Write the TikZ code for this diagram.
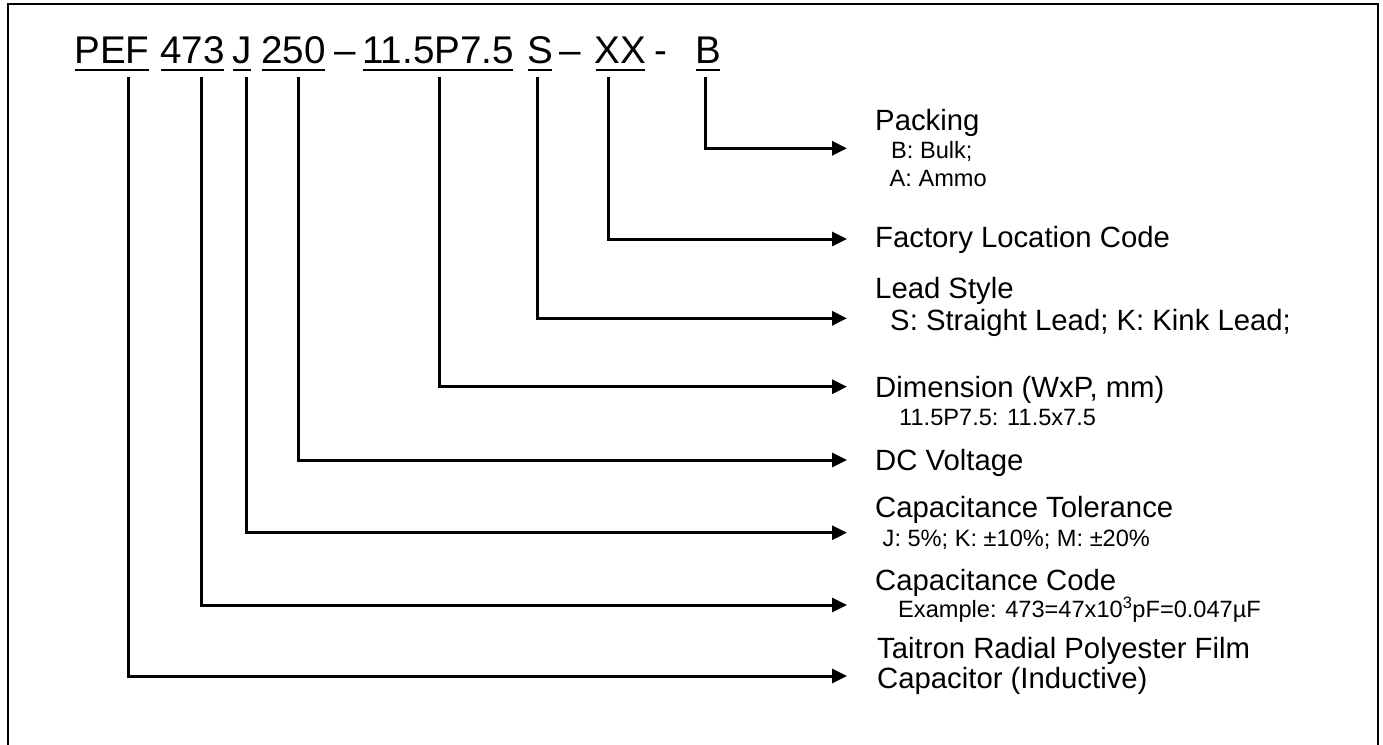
\documentclass[tikz,border=0pt]{standalone}
\usepackage{fontspec}
\setmainfont{Liberation Sans}
\usetikzlibrary{arrows.meta}
\newcommand{\ttlfont}{\fontsize{38.6}{40}\selectfont}
\newcommand{\labfont}{\fontsize{29.3}{31}\selectfont}
\newcommand{\smlfont}{\fontsize{23.6}{25}\selectfont}
\tikzset{
  ttl/.style={anchor=base west, inner sep=0pt, font=\ttlfont},
  lab/.style={anchor=base west, inner sep=0pt, font=\labfont},
  sml/.style={anchor=base west, inner sep=0pt, font=\smlfont},
  conn/.style={line width=3pt, -{Triangle[length=15pt,width=14pt]}},
  uline/.style={line width=2.7pt},
  frame/.style={line width=2pt}
}
\begin{document}
\begin{tikzpicture}[x=1pt,y=-1pt]
\useasboundingbox (0,0) rectangle (1383,744);
\draw[frame] (8,750) -- (8,4) -- (1378,4) -- (1378,750);
% title tokens
\node[ttl] (tPEF) at (74.3,63) {PEF};
\node[ttl] (t473) at (160,63) {473};
\node[ttl] (tJ) at (232,63) {J};
\node[ttl] (t250) at (261,63) {250};
\node[ttl] (td1) at (334,63) {–};
\node[ttl] (tP) at (362,63) {11.5P7.5};
\node[ttl] (tS) at (527,63) {S};
\node[ttl] (td2) at (559,63) {–};
\node[ttl] (tXX) at (594.5,63) {XX};
\node[ttl] (td3) at (654.5,63) {-};
\node[ttl] (tB) at (695,63) {B};
\foreach \t in {tPEF,t473,tJ,t250,tP,tS,tXX,tB}{
  \draw[uline] ([xshift=1pt]\t.west |- 0,70) -- ([xshift=-1pt]\t.east |- 0,70);
}
% labels
\node[lab] (lPack) at (875,130.7) {Packing};
\node[sml] (lPack1) at (891,158.3) {B: Bulk;};
\node[sml] (lPack2) at (889.5,186) {A: Ammo};
\node[lab] (lFac) at (875,247) {Factory Location Code};
\node[lab] (lLead) at (875,298) {Lead Style};
\node[lab] (lLead1) at (890,330) {S: Straight Lead; K: Kink Lead;};
\node[lab] (lDim) at (875,397.3) {Dimension (WxP, mm)};
\node[sml] (lDim1) at (899,425) {11.5P7.5: 11.5x7.5};
\node[lab] (lDC) at (875,470) {DC Voltage};
\node[lab] (lTol) at (875,517.3) {Capacitance Tolerance};
\node[sml] (lTol1) at (882.5,546) {J: 5\%; K: ±10\%; M: ±20\%};
\node[lab] (lCode) at (875,590) {Capacitance Code};
\node[sml] (lCode1) at (898,617.3) {Example: 473=47x10\textsuperscript{3}pF=0.047µF};
\node[lab] (lTai) at (877,658.3) {Taitron Radial Polyester Film};
\node[lab] (lTai1) at (877,688.3) {Capacitor (Inductive)};
% connector ends
\coordinate (sB) at (705,77);   \coordinate (eB) at (847,148.3);
\coordinate (sXX) at (608.5,77); \coordinate (eXX) at (847,239);
\coordinate (sS) at (537.5,77); \coordinate (eS) at (847,318.3);
\coordinate (sP) at (439,77);   \coordinate (eP) at (847,386.7);
\coordinate (s250) at (298,77); \coordinate (e250) at (847,460);
\coordinate (sJ) at (246.7,77); \coordinate (eJ) at (847,532.7);
\coordinate (s473) at (201.5,77); \coordinate (e473) at (847,605);
\coordinate (sPEF) at (128.3,77); \coordinate (ePEF) at (847,676);
\foreach \k in {B,XX,S,P,250,J,473,PEF}{
  \draw[conn] (s\k) |- (e\k);
}
\end{tikzpicture}
\end{document}
